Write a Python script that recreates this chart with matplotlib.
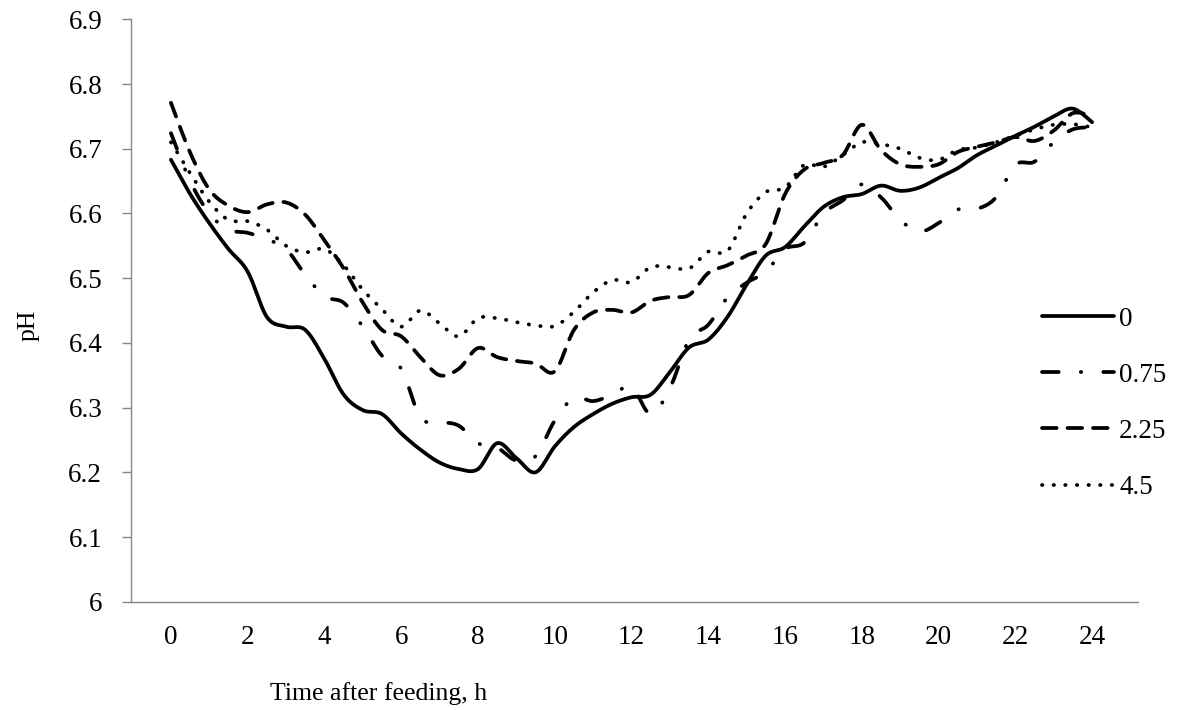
import numpy as np
import matplotlib
matplotlib.use("Agg")
import matplotlib.pyplot as plt

# sampling every half hour after feeding
hours = np.arange(0, 24.5, 0.5)

ph_0 = [6.683, 6.63, 6.585, 6.545, 6.51, 6.44, 6.425, 6.42, 6.375, 6.32,
        6.296, 6.29, 6.26, 6.235, 6.215, 6.205, 6.205, 6.245, 6.222, 6.2,
        6.24, 6.27, 6.29, 6.306, 6.316, 6.32, 6.355, 6.393, 6.405, 6.44,
        6.49, 6.535, 6.548, 6.58, 6.61, 6.625, 6.63, 6.643, 6.635, 6.64,
        6.655, 6.67, 6.69, 6.705, 6.72, 6.734, 6.75, 6.762, 6.741]

ph_075 = [6.724, 6.65, 6.6, 6.575, 6.57, 6.56, 6.545, 6.505, 6.472, 6.462,
          6.425, 6.38, 6.36, 6.285, 6.278, 6.272, 6.245, 6.238, 6.218, 6.225,
          6.28, 6.315, 6.31, 6.32, 6.332, 6.29, 6.33, 6.405, 6.428, 6.47,
          6.493, 6.51, 6.545, 6.555, 6.6, 6.62, 6.645, 6.625, 6.59, 6.572,
          6.585, 6.606, 6.607, 6.625, 6.675, 6.68, 6.71, 6.73, 6.733]

ph_225 = [6.771, 6.694, 6.637, 6.612, 6.602, 6.614, 6.617, 6.598, 6.558, 6.515,
          6.462, 6.42, 6.41, 6.378, 6.35, 6.36, 6.392, 6.378, 6.372, 6.368,
          6.356, 6.42, 6.447, 6.451, 6.447, 6.465, 6.471, 6.474, 6.508, 6.52,
          6.535, 6.553, 6.63, 6.668, 6.678, 6.69, 6.737, 6.698, 6.676, 6.672,
          6.676, 6.695, 6.703, 6.71, 6.718, 6.712, 6.728, 6.755, 6.75]

ph_45 = [6.71, 6.662, 6.618, 6.59, 6.588, 6.575, 6.55, 6.54, 6.545, 6.52,
         6.482, 6.452, 6.425, 6.45, 6.43, 6.41, 6.438, 6.438, 6.432, 6.427,
         6.426, 6.448, 6.478, 6.497, 6.494, 6.517, 6.517, 6.515, 6.541, 6.542,
         6.6, 6.633, 6.64, 6.675, 6.672, 6.69, 6.71, 6.707, 6.7, 6.686,
         6.683, 6.698, 6.702, 6.71, 6.72, 6.73, 6.737, 6.738, 6.733]

labels = ["0", "0.75", "2.25", "4.5"]


def catmull_rom(x, y, steps=16):
    """Smooth curve through the points (like a spreadsheet 'smoothed line')."""
    x = np.asarray(x, float)
    y = np.asarray(y, float)
    px = np.concatenate([[x[0]], x, [x[-1]]])
    py = np.concatenate([[y[0]], y, [y[-1]]])
    s = np.linspace(0, 1, steps, endpoint=False)
    xs, ys = [], []
    for i in range(1, len(px) - 2):
        for p, out in ((px, xs), (py, ys)):
            p0, p1, p2, p3 = p[i - 1], p[i], p[i + 1], p[i + 2]
            out.append(0.5 * (2 * p1 + (-p0 + p2) * s
                              + (2 * p0 - 5 * p1 + 4 * p2 - p3) * s ** 2
                              + (-p0 + 3 * p1 - 3 * p2 + p3) * s ** 3))
    xs.append([x[-1]])
    ys.append([y[-1]])
    return np.concatenate(xs), np.concatenate(ys)


plt.rcParams["font.family"] = ["Liberation Serif", "DejaVu Serif"]
fs_title = 18.5
fs_tick = 19.5

fig = plt.figure(figsize=(11.77, 7.10), dpi=100)
ax = fig.add_axes([0.111, 0.1525, 0.856, 0.8203])

lw = 2.7
styles = [
    "-",
    (0, (4.45, 5.9, 0.1, 5.9)),
    (0, (3.9, 2.9)),
    (0, (0.1, 3.0)),
]
for vals, ls, lab in zip([ph_0, ph_075, ph_225, ph_45], styles, labels):
    sx, sy = catmull_rom(hours, vals)
    ax.plot(sx, sy, color="black", lw=lw, linestyle=ls,
            dash_capstyle="round", solid_capstyle="round", label=lab)

ax.set_xlim(-1.05, 25.2)
ax.set_ylim(6.0, 6.9)
ax.set_xticks(np.arange(0, 25, 2))
ax.set_yticks(np.arange(6.0, 6.95, 0.1))
ax.set_yticklabels(["6", "6.1", "6.2", "6.3", "6.4", "6.5", "6.6", "6.7", "6.8", "6.9"])

for side in ("top", "right"):
    ax.spines[side].set_visible(False)
for side in ("left", "bottom"):
    ax.spines[side].set_color("#878787")
    ax.spines[side].set_linewidth(1.0)

ax.tick_params(axis="y", length=6.5, width=1.0, color="#878787", pad=14,
               labelsize=fs_tick)
ax.tick_params(axis="x", length=0, pad=17, labelsize=fs_tick)

fig.text(0.322, 0.023, "Time after feeding, h", fontsize=fs_title, ha="center", va="center")
fig.text(0.024, 0.542, "pH", fontsize=fs_title, ha="center", va="center", rotation=90)

ax.legend(loc="center left", bbox_to_anchor=(0.874, 0.432), bbox_transform=fig.transFigure,
          frameon=False, fontsize=fs_tick, handlelength=2.66, handletextpad=0.18,
          labelspacing=1.15, borderpad=0)

fig.savefig("out.png", dpi=100)
